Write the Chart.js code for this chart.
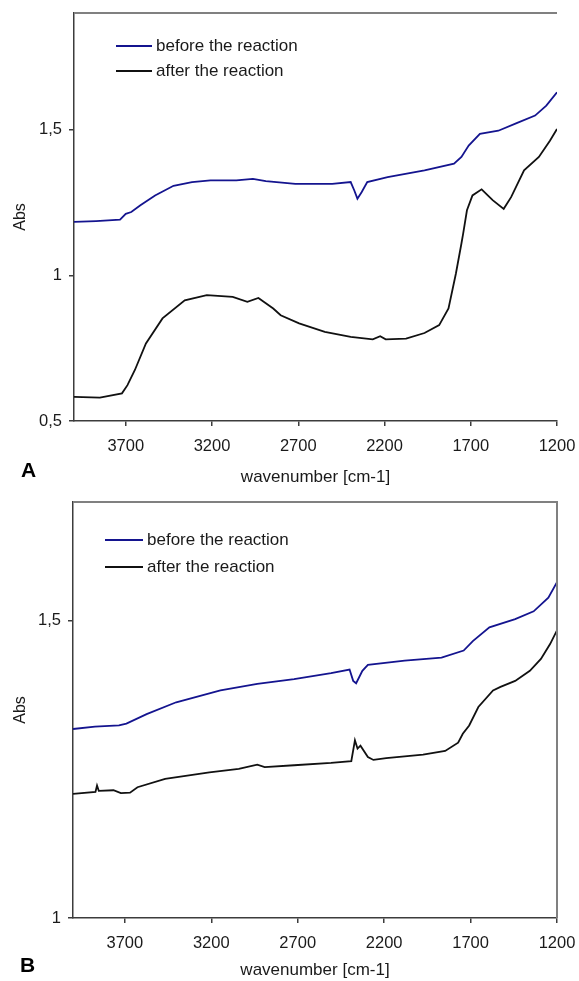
<!DOCTYPE html>
<html>
<head>
<meta charset="utf-8">
<script src="https://cdn.jsdelivr.net/npm/chart.js@4.4.0/dist/chart.umd.min.js"></script>
<style>
  html, body { margin: 0; padding: 0; background: #fff; }
  body { width: 579px; height: 981px; position: relative; overflow: hidden; }
  canvas { position: absolute; left: 0; }
  #chartA { top: 0; }
  #chartB { top: 490px; }
</style>
</head>
<body>
<canvas id="chartA" width="579" height="490"></canvas>
<canvas id="chartB" width="579" height="491"></canvas>
<script>
const FONT = "'Liberation Sans', Arial, sans-serif";
const AXIS = '#3c3c3c';
const BLUE = '#14148f';
const BLACK = '#111111';

const seriesLabels = ['before the reaction', 'after the reaction'];
const xTicks = [3700, 3200, 2700, 2200, 1700, 1200];
const yTicksA = [0.5, 1, 1.5];
const yTicksB = [1, 1.5];

// panel A - before
const waveA_before = [4000, 3872, 3733, 3700, 3668, 3615, 3530, 3423, 3316, 3209, 3059, 2963, 2888, 2717, 2503, 2396, 2375, 2357, 2332, 2300, 2182, 1968, 1797, 1754, 1712, 1647, 1540, 1434, 1327, 1262, 1200];
const absA_before = [1.183, 1.186, 1.191, 1.211, 1.217, 1.240, 1.274, 1.307, 1.320, 1.326, 1.326, 1.331, 1.323, 1.314, 1.314, 1.320, 1.291, 1.263, 1.286, 1.320, 1.337, 1.360, 1.383, 1.406, 1.445, 1.485, 1.496, 1.522, 1.548, 1.582, 1.628];

// panel A - after
const waveA_after = [4000, 3850, 3722, 3690, 3647, 3583, 3487, 3358, 3230, 3080, 2995, 2931, 2845, 2802, 2695, 2546, 2396, 2268, 2225, 2193, 2075, 1968, 1883, 1829, 1786, 1754, 1744, 1722, 1690, 1637, 1573, 1509, 1466, 1391, 1305, 1241, 1200];
const absA_after = [0.583, 0.580, 0.595, 0.623, 0.675, 0.766, 0.852, 0.914, 0.932, 0.926, 0.909, 0.922, 0.886, 0.863, 0.835, 0.806, 0.789, 0.780, 0.791, 0.780, 0.783, 0.802, 0.829, 0.886, 1.006, 1.109, 1.143, 1.223, 1.274, 1.295, 1.258, 1.228, 1.268, 1.360, 1.406, 1.462, 1.502];

// panel B - before
const waveB_before = [4000, 3873, 3734, 3691, 3574, 3403, 3147, 2934, 2721, 2507, 2400, 2379, 2362, 2326, 2294, 2081, 1868, 1740, 1687, 1591, 1442, 1335, 1250, 1200];
const absB_before = [1.318, 1.322, 1.324, 1.327, 1.343, 1.363, 1.383, 1.394, 1.402, 1.412, 1.418, 1.399, 1.395, 1.416, 1.426, 1.433, 1.438, 1.450, 1.466, 1.489, 1.503, 1.516, 1.539, 1.565];

// panel B - after
const waveB_after = [4000, 3870, 3861, 3851, 3766, 3723, 3670, 3627, 3467, 3211, 3041, 2934, 2891, 2721, 2507, 2390, 2369, 2354, 2337, 2294, 2262, 2188, 1975, 1847, 1772, 1745, 1708, 1655, 1570, 1527, 1442, 1357, 1293, 1240, 1200];
const absB_after = [1.209, 1.212, 1.223, 1.214, 1.215, 1.210, 1.211, 1.220, 1.234, 1.245, 1.251, 1.258, 1.254, 1.257, 1.261, 1.264, 1.299, 1.285, 1.290, 1.271, 1.266, 1.269, 1.275, 1.281, 1.295, 1.310, 1.324, 1.355, 1.383, 1.389, 1.399, 1.416, 1.436, 1.461, 1.484];

const toPoints = (xs, ys) => xs.map((x, i) => ({ x, y: ys[i] }));
const fmt = v => String(v).replace('.', ',');

// top frame line (and right one for B), in-plot legend, panel letter
const panelDecor = {
  id: 'panelDecor',
  afterDraw(chart, args, opts) {
    const { ctx, chartArea: a } = chart;
    ctx.save();
    ctx.strokeStyle = '#808080';
    ctx.lineWidth = 2;
    ctx.beginPath();
    ctx.moveTo(a.left, a.top);
    ctx.lineTo(a.right, a.top);
    if (opts.rightBorder) ctx.lineTo(a.right, a.bottom);
    ctx.stroke();

    ctx.font = '17px ' + FONT;
    ctx.textBaseline = 'middle';
    chart.data.datasets.forEach((ds, i) => {
      const y = opts.legendY + i * opts.legendGap;
      ctx.strokeStyle = ds.borderColor;
      ctx.lineWidth = 1.8;
      ctx.beginPath();
      ctx.moveTo(opts.legendX, y);
      ctx.lineTo(opts.legendX + opts.legendLine, y);
      ctx.stroke();
      ctx.fillStyle = '#1a1a1a';
      ctx.fillText(ds.label, opts.legendX + opts.legendLine + 4, y);
    });

    ctx.font = 'bold 21px ' + FONT;
    ctx.fillStyle = '#000';
    ctx.textBaseline = 'alphabetic';
    ctx.fillText(opts.letter, opts.letterX, opts.letterY);
    ctx.restore();
  }
};

function makeChart(id, before, after, yMin, yMax, yTicks, panel) {
  return new Chart(document.getElementById(id), {
    type: 'line',
    data: {
      datasets: [
        { label: seriesLabels[0], data: before, borderColor: BLUE },
        { label: seriesLabels[1], data: after, borderColor: BLACK }
      ]
    },
    options: {
      responsive: false,
      animation: false,
      devicePixelRatio: 1,
      layout: { padding: { top: panel.top, right: 22, left: 0, bottom: 0 } },
      elements: {
        point: { radius: 0 },
        line: { borderWidth: 1.8, tension: 0, fill: false }
      },
      plugins: {
        legend: { display: false },
        tooltip: { enabled: false },
        panelDecor: panel
      },
      scales: {
        x: {
          type: 'linear',
          reverse: true,
          min: 1200,
          max: 4000,
          afterBuildTicks: s => { s.ticks = xTicks.map(v => ({ value: v })); },
          afterFit: s => {
            s.height = panel.xHeight;
            s.paddingLeft = 0;
            s.paddingRight = 0;
          },
          border: { color: AXIS, width: 1.5 },
          grid: { drawOnChartArea: false, tickLength: 5, color: AXIS, lineWidth: 1.5 },
          ticks: {
            color: '#1a1a1a', font: { family: FONT, size: 16.5 }, padding: 11,
            maxRotation: 0, autoSkip: false, callback: v => String(v)
          },
          title: {
            display: true, text: 'wavenumber [cm-1]', color: '#1a1a1a',
            font: { family: FONT, size: 17, lineHeight: 1.2 },
            padding: { top: 0, bottom: panel.xTitlePad }
          }
        },
        y: {
          min: yMin,
          max: yMax,
          afterBuildTicks: s => { s.ticks = yTicks.map(v => ({ value: v })); },
          afterFit: s => {
            s.width = panel.yWidth;
            s.paddingTop = 0;
            s.paddingBottom = 0;
          },
          border: { color: AXIS, width: 1.5 },
          grid: { drawOnChartArea: false, tickLength: 5, color: AXIS, lineWidth: 1.5 },
          ticks: {
            color: '#1a1a1a', font: { family: FONT, size: 16.5 }, padding: 7,
            callback: v => fmt(v)
          },
          title: {
            display: true, text: 'Abs', color: '#1a1a1a',
            font: { family: FONT, size: 16, lineHeight: 1.2 },
            padding: { top: 11, bottom: 0 }
          }
        }
      }
    },
    plugins: [panelDecor]
  });
}

makeChart('chartA',
  toPoints(waveA_before, absA_before), toPoints(waveA_after, absA_after),
  0.5, 1.9, yTicksA,
  { top: 13, xHeight: 69, yWidth: 74, xTitlePad: 2.4, rightBorder: false,
    legendX: 116, legendY: 46, legendGap: 25, legendLine: 36,
    letter: 'A', letterX: 21, letterY: 477 });

makeChart('chartB',
  toPoints(waveB_before, absB_before), toPoints(waveB_after, absB_after),
  1, 1.7, yTicksB,
  { top: 12, xHeight: 63, yWidth: 73, xTitlePad: 0, rightBorder: true,
    legendX: 105, legendY: 50, legendGap: 27, legendLine: 38,
    letter: 'B', letterX: 20, letterY: 482 });
</script>
</body>
</html>
